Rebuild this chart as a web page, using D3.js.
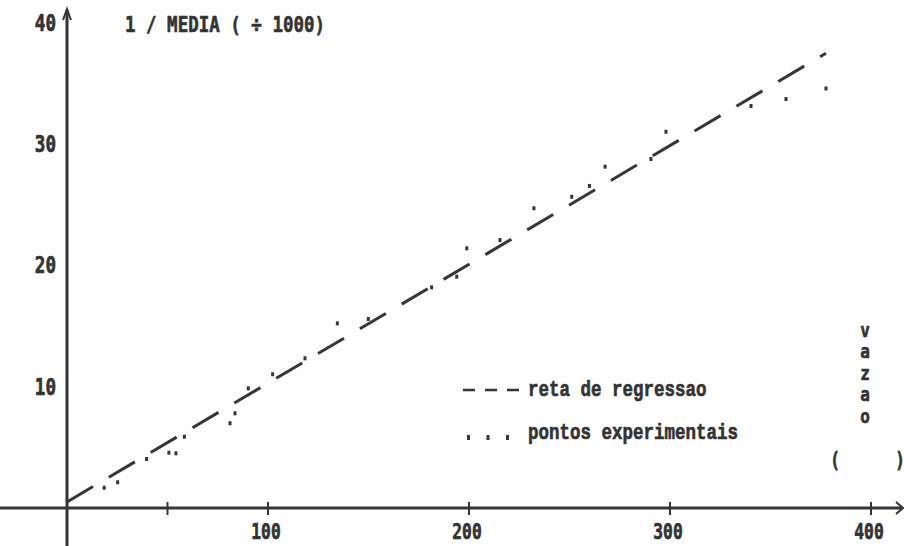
<!DOCTYPE html>
<html lang="pt">
<head>
<meta charset="UTF-8">
<title>1 / MEDIA x vazao</title>
<script src="https://d3js.org/d3.v7.min.js"></script>
<style>
  body { margin: 0; background: #fff; }
  svg { display: block; }
  text { fill: #333; font-weight: bold; stroke: #333; stroke-width: 0.5px; }
  .mono { font-family: "DejaVu Sans Mono", monospace; }
  .nlq { font-family: "Liberation Mono", monospace; }
</style>
</head>
<body>
<script>
const width = 904, height = 546;
const ink = "#363636";

// eixos
const xTicks = [50, 100, 200, 300, 400];
const xTickLabels = [100, 200, 300, 400];
const yTickLabels = [10, 20, 30, 40];

// reta de regressao (extremos)
const retaX = [0, 377.6];
const retaY = [0.5, 37.5];

// pontos experimentais visiveis fora da reta
const pontosX = [18.5, 25.2, 39.6, 50.7, 54.2, 58.4, 81.1, 83.6, 90.2, 102.3, 118.4, 134.5, 149.9, 181.4, 193.9,
                 198.9, 215.4, 232.3, 251.1, 259.9, 267.7, 290.5, 298.0, 340.3, 357.7, 377.6];
const pontosY = [1.67, 2.12, 4.04, 4.56, 4.51, 5.88, 6.99, 7.81, 9.87, 11.03, 12.35, 15.23, 15.59, 18.2, 19.08,
                 21.42, 22.1, 24.72, 25.67, 26.56, 28.15, 28.78, 31.03, 33.15, 33.73, 34.6];

const legenda = ["reta de regressao", "pontos experimentais"];
const eixoX = "vazao";

const x = d3.scaleLinear().domain([0, 400]).range([67, 871]);
const y = d3.scaleLinear().domain([0, 40]).range([508, 23]);

const svg = d3.select("body").append("svg")
    .attr("width", width)
    .attr("height", height);

svg.append("rect").attr("width", width).attr("height", height).attr("fill", "#fefefe");

function label(str, px, py, cls, size, sx, sy, anchor) {
    svg.append("text")
        .attr("class", cls)
        .attr("transform", `translate(${px},${py}) scale(${sx},${sy})`)
        .attr("text-anchor", anchor || "start")
        .attr("dominant-baseline", "central")
        .attr("font-size", size)
        .text(str);
}

// eixo x
svg.append("line")
    .attr("x1", 0).attr("x2", width - 1)
    .attr("y1", y(0)).attr("y2", y(0))
    .attr("stroke", ink).attr("stroke-width", 3);
svg.append("path")
    .attr("d", `M${width - 8},${y(0) - 6}L${width - 1},${y(0)}L${width - 8},${y(0) + 6}`)
    .attr("fill", "none").attr("stroke", ink).attr("stroke-width", 2);

svg.selectAll(".xtick")
    .data(xTicks)
    .enter().append("line")
    .attr("class", "xtick")
    .attr("x1", d => x(d)).attr("x2", d => x(d))
    .attr("y1", y(0) - 6).attr("y2", y(0) + 7)
    .attr("stroke", ink).attr("stroke-width", 2);

xTickLabels.forEach(d => label(d, x(d) - 2, 532, "mono", 15.5, 1.05, 1.4, "middle"));

// eixo y
svg.append("line")
    .attr("x1", x(0)).attr("x2", x(0))
    .attr("y1", height).attr("y2", 10)
    .attr("stroke", ink).attr("stroke-width", 3);
svg.append("path")
    .attr("d", `M${x(0) - 4},${20}L${x(0)},${9}L${x(0) + 4},${20}`)
    .attr("fill", "none").attr("stroke", ink).attr("stroke-width", 2);

yTickLabels.forEach(d => label(d, 56, y(d), "mono", 16, 1.1, 1.45, "end"));

label("1 / MEDIA ( \u00f7 1000)", 125, 25, "mono", 17.5, 1.0, 1.25, "start");

// reta de regressao tracejada
svg.append("line")
    .attr("x1", x(retaX[0])).attr("y1", y(retaY[0]))
    .attr("x2", x(retaX[1])).attr("y2", y(retaY[1]))
    .attr("stroke", ink).attr("stroke-width", 3)
    .attr("stroke-dasharray", "30.2 18.4");

// pontos experimentais
svg.selectAll(".ponto")
    .data(pontosX.map((d, i) => [d, pontosY[i]]))
    .enter().append("rect")
    .attr("class", "ponto")
    .attr("x", d => x(d[0]) - 1.5)
    .attr("y", d => y(d[1]) - 2)
    .attr("width", 3).attr("height", 4)
    .attr("fill", ink);

// legenda
svg.append("line")
    .attr("x1", 463).attr("x2", 520)
    .attr("y1", 390).attr("y2", 390)
    .attr("stroke", ink).attr("stroke-width", 2.5)
    .attr("stroke-dasharray", "12 10");
svg.selectAll(".legdot")
    .data([0, 1, 2])
    .enter().append("rect")
    .attr("class", "legdot")
    .attr("x", d => 467 + d * 19.5)
    .attr("y", 435)
    .attr("width", 3).attr("height", 5)
    .attr("fill", ink);
label(legenda[0], 528, 390, "nlq", 17.5, 1.0, 1.3, "start");
label(legenda[1], 528, 433, "nlq", 17.5, 1.0, 1.3, "start");

// titulo do eixo x, na vertical
eixoX.split("").forEach((c, i) => label(c, 865, 330 + i * 21.5, "mono", 16, 1.0, 1.2, "middle"));
label("(", 835, 460, "mono", 16, 1.0, 1.3, "middle");
label(")", 900, 460, "mono", 16, 1.0, 1.3, "middle");
</script>
</body>
</html>
